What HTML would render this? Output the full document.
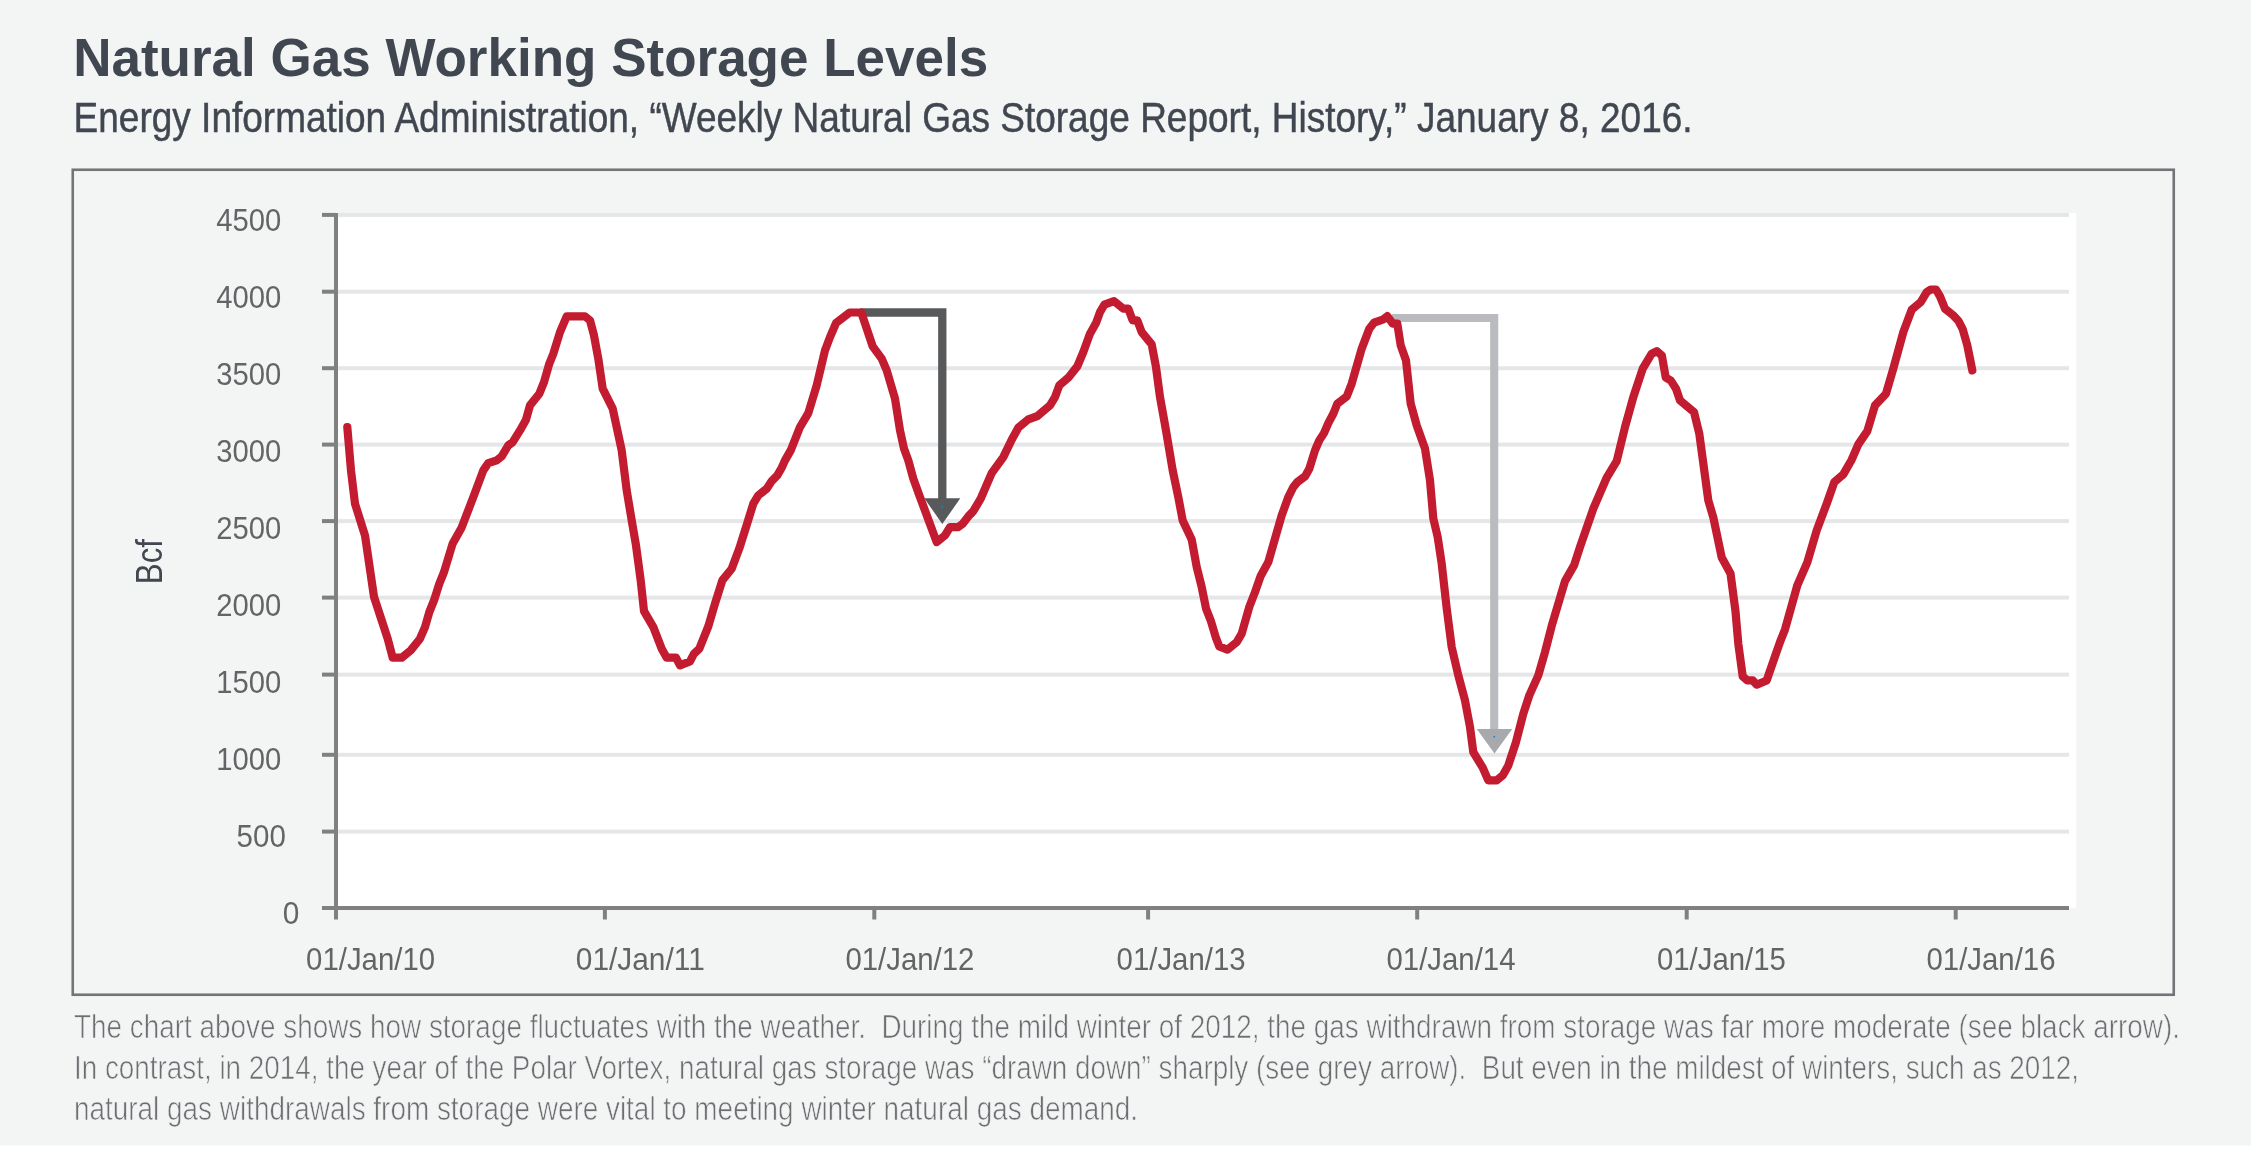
<!DOCTYPE html>
<html lang="en"><head><meta charset="utf-8"><title>Natural Gas Working Storage Levels</title>
<style>html,body{margin:0;padding:0;background:#fff;}body{width:2251px;height:1151px;overflow:hidden;}svg{display:block;will-change:transform;}text{font-family:"Liberation Sans", sans-serif;}</style>
</head><body>
<svg width="2251" height="1151" viewBox="0 0 2251 1151">
<rect x="0" y="0" width="2251" height="1145.5" fill="#f3f4f4"/>
<text x="73.2" y="75.6" font-size="53" font-weight="700" fill="#414750" textLength="915" lengthAdjust="spacingAndGlyphs">Natural Gas Working Storage Levels</text>
<text x="73.6" y="132.4" font-size="43" fill="#414750" stroke="#414750" stroke-width="0.45" textLength="1619" lengthAdjust="spacingAndGlyphs">Energy Information Administration, “Weekly Natural Gas Storage Report, History,” January 8, 2016.</text>
<rect x="72.75" y="169.75" width="2101" height="825" fill="none" stroke="#737478" stroke-width="2.6"/>
<rect x="338" y="213" width="1738.2" height="695" fill="#ffffff"/>
<rect x="338" y="212.9" width="1731" height="4" fill="#e5e6e8"/>
<rect x="338" y="289.7" width="1731" height="4" fill="#e5e6e8"/>
<rect x="338" y="366.2" width="1731" height="4" fill="#e5e6e8"/>
<rect x="338" y="442.6" width="1731" height="4" fill="#e5e6e8"/>
<rect x="338" y="519.1" width="1731" height="4" fill="#e5e6e8"/>
<rect x="338" y="595.6" width="1731" height="4" fill="#e5e6e8"/>
<rect x="338" y="672.6" width="1731" height="4" fill="#e5e6e8"/>
<rect x="338" y="752.8" width="1731" height="4" fill="#e5e6e8"/>
<rect x="338" y="829.6" width="1731" height="4" fill="#e5e6e8"/>
<rect x="334" y="213" width="4" height="706.5" fill="#808080"/>
<rect x="322" y="906" width="1747" height="4" fill="#808080"/>
<rect x="322" y="212.9" width="14" height="4" fill="#808080"/>
<rect x="322" y="289.7" width="14" height="4" fill="#808080"/>
<rect x="322" y="366.2" width="14" height="4" fill="#808080"/>
<rect x="322" y="442.6" width="14" height="4" fill="#808080"/>
<rect x="322" y="519.1" width="14" height="4" fill="#808080"/>
<rect x="322" y="595.6" width="14" height="4" fill="#808080"/>
<rect x="322" y="672.6" width="14" height="4" fill="#808080"/>
<rect x="322" y="752.8" width="14" height="4" fill="#808080"/>
<rect x="322" y="829.6" width="14" height="4" fill="#808080"/>
<rect x="602.9" y="908" width="4" height="11.5" fill="#808080"/>
<rect x="872.3" y="908" width="4" height="11.5" fill="#808080"/>
<rect x="1146.1" y="908" width="4" height="11.5" fill="#808080"/>
<rect x="1415.2" y="908" width="4" height="11.5" fill="#808080"/>
<rect x="1684.7" y="908" width="4" height="11.5" fill="#808080"/>
<rect x="1953.7" y="908" width="4" height="11.5" fill="#808080"/>
<text x="281.2" y="230.5" font-size="30.5" fill="#636466" text-anchor="end" textLength="65.0" lengthAdjust="spacingAndGlyphs">4500</text>
<text x="281.2" y="307.6" font-size="30.5" fill="#636466" text-anchor="end" textLength="65.0" lengthAdjust="spacingAndGlyphs">4000</text>
<text x="281.2" y="384.6" font-size="30.5" fill="#636466" text-anchor="end" textLength="65.0" lengthAdjust="spacingAndGlyphs">3500</text>
<text x="281.2" y="461.7" font-size="30.5" fill="#636466" text-anchor="end" textLength="65.0" lengthAdjust="spacingAndGlyphs">3000</text>
<text x="281.2" y="538.8" font-size="30.5" fill="#636466" text-anchor="end" textLength="65.0" lengthAdjust="spacingAndGlyphs">2500</text>
<text x="281.2" y="615.8" font-size="30.5" fill="#636466" text-anchor="end" textLength="65.0" lengthAdjust="spacingAndGlyphs">2000</text>
<text x="281.2" y="692.9" font-size="30.5" fill="#636466" text-anchor="end" textLength="65.0" lengthAdjust="spacingAndGlyphs">1500</text>
<text x="281.2" y="770.0" font-size="30.5" fill="#636466" text-anchor="end" textLength="65.0" lengthAdjust="spacingAndGlyphs">1000</text>
<text x="285.8" y="847.1" font-size="30.5" fill="#636466" text-anchor="end" textLength="49.2" lengthAdjust="spacingAndGlyphs">500</text>
<text x="299.4" y="924.1" font-size="30.5" fill="#636466" text-anchor="end" textLength="16.6" lengthAdjust="spacingAndGlyphs">0</text>
<text x="306.1" y="970.2" font-size="30.5" fill="#636466" textLength="129" lengthAdjust="spacingAndGlyphs">01/Jan/10</text>
<text x="575.8" y="970.2" font-size="30.5" fill="#636466" textLength="129" lengthAdjust="spacingAndGlyphs">01/Jan/11</text>
<text x="845.4" y="970.2" font-size="30.5" fill="#636466" textLength="129" lengthAdjust="spacingAndGlyphs">01/Jan/12</text>
<text x="1116.6" y="970.2" font-size="30.5" fill="#636466" textLength="129" lengthAdjust="spacingAndGlyphs">01/Jan/13</text>
<text x="1386.5" y="970.2" font-size="30.5" fill="#636466" textLength="129" lengthAdjust="spacingAndGlyphs">01/Jan/14</text>
<text x="1656.9" y="970.2" font-size="30.5" fill="#636466" textLength="129" lengthAdjust="spacingAndGlyphs">01/Jan/15</text>
<text x="1926.5" y="970.2" font-size="30.5" fill="#636466" textLength="129" lengthAdjust="spacingAndGlyphs">01/Jan/16</text>
<text transform="translate(162.4,584.2) rotate(-90)" font-size="36.3" fill="#414750" textLength="45.2" lengthAdjust="spacingAndGlyphs">Bcf</text>
<path d="M860 312.5 H942.3 V500" fill="none" stroke="#58595b" stroke-width="8.3" stroke-linejoin="miter"/>
<path d="M924.3 498.3 H960.3 L942.3 524 Z" fill="#58595b"/>
<path d="M1392 318.0 H1494.2 V731" fill="none" stroke="#b9bbbe" stroke-width="8.1" stroke-linejoin="miter"/>
<path d="M1476.8 729 H1512.2 L1494.5 753.6 Z" fill="#a7a9ac"/>
<circle cx="942.3" cy="507" r="1.1" fill="#1c7cd5"/>
<circle cx="1494.3" cy="736.7" r="0.9" fill="#1c7cd5"/>
<path d="M347.3 427.1 L351.0 470.4 L355.0 503.7 L365.0 535.4 L374.0 596.9 L381.7 620.4 L387.7 638.7 L392.7 657.7 L401.7 657.7 L410.7 650.4 L420.0 638.7 L425.0 627.1 L429.3 612.1 L434.0 600.4 L439.3 583.7 L444.0 572.1 L452.7 543.4 L461.7 527.4 L473.3 497.1 L483.3 470.4 L488.3 463.1 L496.7 460.4 L501.7 456.4 L508.3 445.4 L512.7 442.1 L520.0 430.4 L526.0 419.7 L530.0 405.4 L539.3 393.7 L544.0 382.1 L549.3 363.7 L553.3 353.7 L560.0 332.1 L566.7 316.4 L585.0 316.4 L590.0 320.4 L594.0 335.4 L598.3 358.7 L602.7 388.7 L612.7 408.7 L621.7 450.4 L626.7 490.4 L631.7 520.4 L636.0 545.4 L640.7 580.4 L644.0 611.1 L653.3 627.1 L661.7 648.7 L666.7 657.7 L676.0 657.7 L680.0 665.4 L690.0 661.4 L694.0 653.7 L699.3 648.7 L708.3 626.4 L715.0 603.7 L722.3 580.4 L731.7 568.7 L739.3 548.4 L746.7 524.9 L753.3 503.7 L758.3 495.4 L766.7 488.7 L771.7 481.1 L777.3 475.4 L781.7 467.7 L785.0 460.4 L790.7 450.4 L800.0 427.1 L808.3 413.1 L816.7 385.4 L825.0 350.4 L830.0 337.1 L836.0 323.1 L849.7 312.5 L861.3 312.5 L872.7 346.4 L881.7 358.7 L886.7 370.4 L895.0 398.7 L900.0 430.4 L904.0 448.7 L908.3 460.4 L913.3 478.7 L920.0 497.1 L936.7 542.1 L945.0 535.4 L950.0 527.1 L958.3 527.1 L962.7 523.7 L968.3 516.4 L973.3 511.1 L980.7 498.7 L991.7 473.1 L1003.3 457.1 L1011.7 439.7 L1018.3 427.7 L1028.3 419.4 L1037.3 416.1 L1050.0 405.4 L1055.0 397.1 L1059.3 385.4 L1068.3 377.7 L1077.3 366.4 L1083.3 352.1 L1090.0 333.7 L1096.0 323.1 L1100.0 312.1 L1104.3 304.7 L1114.0 301.1 L1123.3 308.7 L1128.3 308.7 L1132.7 320.4 L1137.3 320.4 L1141.7 332.1 L1151.7 344.4 L1156.0 367.1 L1160.0 397.1 L1166.0 430.4 L1172.7 470.4 L1178.3 497.1 L1182.7 520.4 L1191.7 539.4 L1196.7 567.1 L1201.7 587.1 L1206.0 608.4 L1210.7 620.4 L1216.0 638.1 L1219.3 646.4 L1227.5 649.7 L1236.7 642.1 L1241.7 633.7 L1249.3 606.9 L1255.0 592.1 L1260.7 575.9 L1268.3 562.1 L1275.0 538.7 L1281.7 515.4 L1288.3 497.1 L1293.3 487.1 L1297.3 482.1 L1305.0 476.4 L1309.3 468.7 L1315.0 450.4 L1319.3 440.4 L1324.0 433.1 L1328.3 423.1 L1333.3 413.7 L1337.3 403.7 L1346.7 396.4 L1351.7 383.7 L1361.7 348.7 L1369.3 328.7 L1374.0 322.7 L1382.7 319.7 L1387.3 316.2 L1392.7 323.7 L1397.3 323.7 L1400.7 345.4 L1406.0 360.4 L1410.7 403.7 L1416.7 425.4 L1425.0 448.7 L1430.0 480.4 L1433.3 518.4 L1437.7 537.1 L1441.7 563.7 L1446.7 608.4 L1451.7 647.1 L1458.3 675.4 L1465.0 700.4 L1470.0 727.1 L1473.3 752.1 L1482.7 767.7 L1488.3 780.4 L1496.7 780.4 L1502.7 775.4 L1508.3 765.4 L1516.0 742.1 L1523.3 713.7 L1529.3 695.4 L1538.3 675.4 L1545.0 652.1 L1551.7 625.9 L1565.0 581.1 L1574.0 565.4 L1580.0 546.9 L1593.3 508.7 L1606.7 477.7 L1616.7 461.1 L1625.0 427.1 L1633.3 397.1 L1642.7 368.7 L1651.7 353.7 L1656.8 351.2 L1661.9 355.6 L1665.7 377.4 L1670.7 380.4 L1676.0 388.7 L1680.0 400.4 L1694.0 412.1 L1699.3 433.7 L1708.3 500.4 L1713.3 517.4 L1721.7 557.4 L1730.5 573.4 L1735.5 611.4 L1738.3 643.7 L1742.7 676.4 L1747.3 680.4 L1752.7 680.4 L1756.7 684.7 L1766.7 680.4 L1775.0 656.4 L1780.0 642.1 L1785.0 629.4 L1797.3 585.4 L1807.3 562.4 L1816.7 530.4 L1826.7 503.7 L1834.3 482.1 L1843.3 474.4 L1851.7 459.7 L1858.3 444.4 L1867.3 431.1 L1875.0 405.4 L1886.0 393.7 L1893.3 368.7 L1903.3 332.1 L1911.7 309.7 L1920.7 302.1 L1926.7 292.1 L1930.7 289.5 L1936.0 289.5 L1940.0 296.4 L1945.0 308.7 L1953.3 315.4 L1958.3 320.7 L1962.7 329.2 L1967.3 345.4 L1972.3 370.4" fill="none" stroke="#c31b2f" stroke-width="8.2" stroke-linecap="round" stroke-linejoin="round"/>
<text x="74" y="1037.6" font-size="33.7" fill="#6d6e72" stroke="#f3f4f4" stroke-width="0.7" textLength="2106" lengthAdjust="spacingAndGlyphs" xml:space="preserve">The chart above shows how storage fluctuates with the weather.  During the mild winter of 2012, the gas withdrawn from storage was far more moderate (see black arrow).</text>
<text x="74" y="1078.5" font-size="33.7" fill="#6d6e72" stroke="#f3f4f4" stroke-width="0.7" textLength="2005" lengthAdjust="spacingAndGlyphs" xml:space="preserve">In contrast, in 2014, the year of the Polar Vortex, natural gas storage was “drawn down” sharply (see grey arrow).  But even in the mildest of winters, such as 2012,</text>
<text x="74" y="1119.6" font-size="33.7" fill="#6d6e72" stroke="#f3f4f4" stroke-width="0.7" textLength="1064" lengthAdjust="spacingAndGlyphs" xml:space="preserve">natural gas withdrawals from storage were vital to meeting winter natural gas demand.</text>
</svg></body></html>
